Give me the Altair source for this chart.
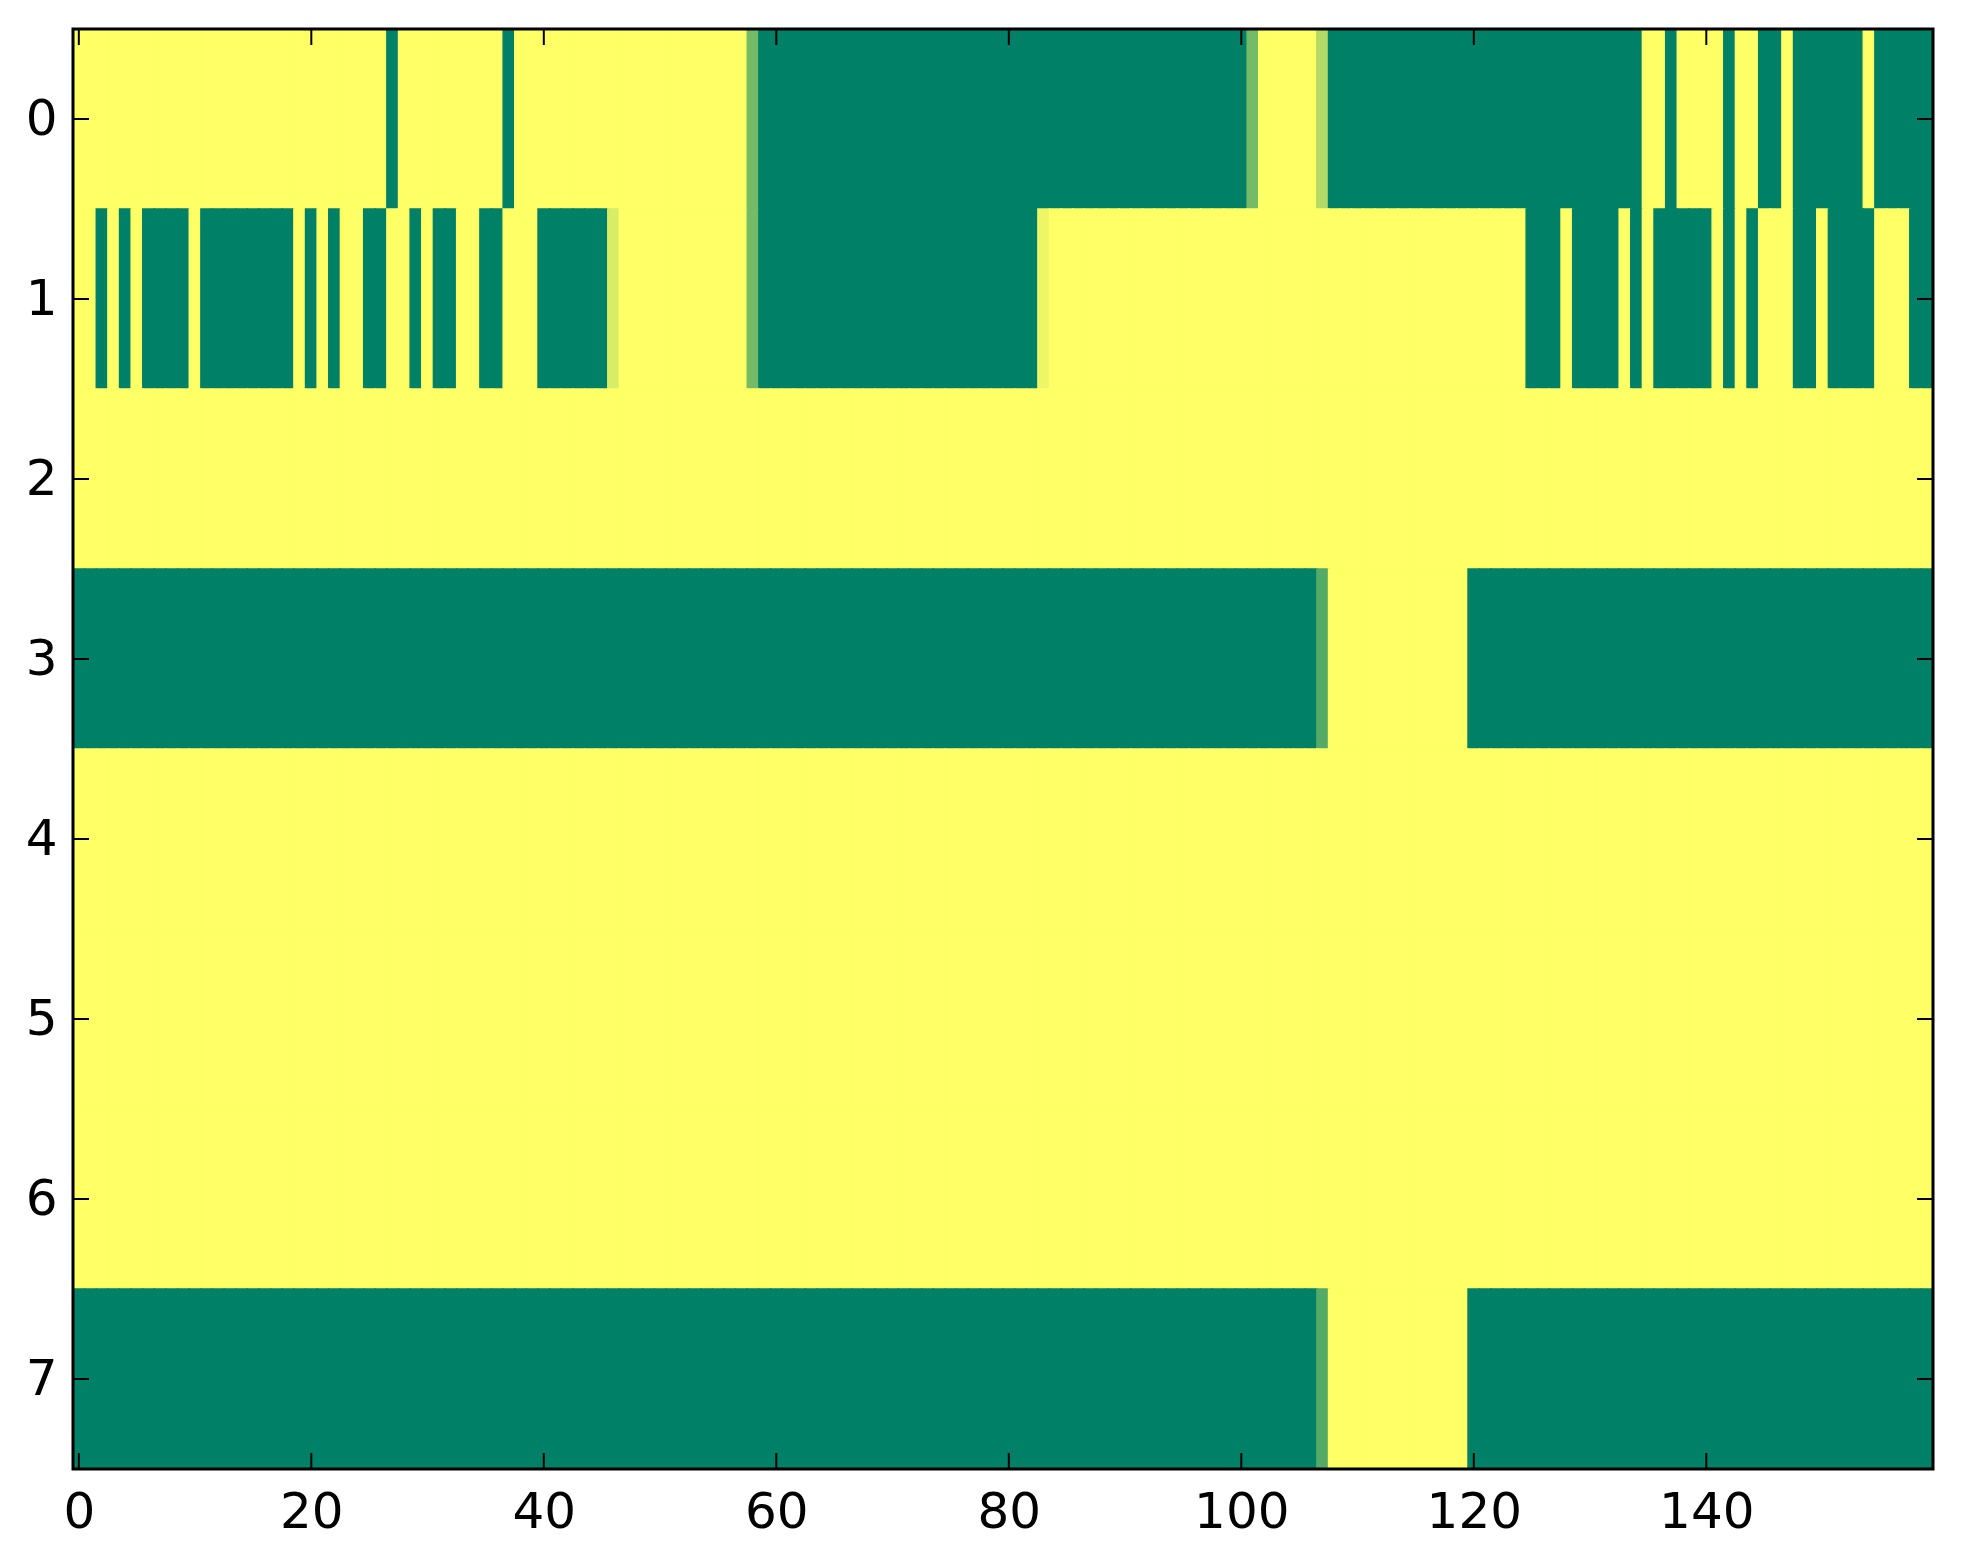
import altair as alt
import pandas as pd

# ---------------- data ----------------
row_0 = [
    1, 1, 1, 1, 1, 1, 1, 1, 1, 1,
    1, 1, 1, 1, 1, 1, 1, 1, 1, 1,
    1, 1, 1, 1, 1, 1, 1, 0, 1, 1,
    1, 1, 1, 1, 1, 1, 1, 0, 1, 1,
    1, 1, 1, 1, 1, 1, 1, 1, 1, 1,
    1, 1, 1, 1, 1, 1, 1, 1, 0.46, 0,
    0, 0, 0, 0, 0, 0, 0, 0, 0, 0,
    0, 0, 0, 0, 0, 0, 0, 0, 0, 0,
    0, 0, 0, 0, 0, 0, 0, 0, 0, 0,
    0, 0, 0, 0, 0, 0, 0, 0, 0, 0,
    0, 0.46, 1, 1, 1, 1, 1, 0.70, 0, 0,
    0, 0, 0, 0, 0, 0, 0, 0, 0, 0,
    0, 0, 0, 0, 0, 0, 0, 0, 0, 0,
    0, 0, 0, 0, 0, 1, 1, 0, 1, 1,
    1, 1, 0, 1, 1, 0, 0, 1, 0, 0,
    0, 0, 0, 0, 1, 0, 0, 0, 0, 0,
]
row_1 = [
    1, 1, 0, 1, 0, 1, 0, 0, 0, 0,
    1, 0, 0, 0, 0, 0, 0, 0, 0, 1,
    0, 1, 0, 1, 1, 0, 0, 1, 1, 0,
    1, 0, 0, 1, 1, 0, 0, 1, 1, 1,
    0, 0, 0, 0, 0, 0, 0.85, 1, 1, 1,
    1, 1, 1, 1, 1, 1, 1, 1, 0.46, 0,
    0, 0, 0, 0, 0, 0, 0, 0, 0, 0,
    0, 0, 0, 0, 0, 0, 0, 0, 0, 0,
    0, 0, 0, 0.93, 1, 1, 1, 1, 1, 1,
    1, 1, 1, 1, 1, 1, 1, 1, 1, 1,
    1, 1, 1, 1, 1, 1, 1, 1, 1, 1,
    1, 1, 1, 1, 1, 1, 1, 1, 1, 1,
    1, 1, 1, 1, 1, 0, 0, 0, 1, 0,
    0, 0, 0, 1, 0, 1, 0, 0, 0, 0,
    0, 1, 0, 1, 0, 1, 1, 1, 0, 0,
    1, 0, 0, 0, 0, 1, 1, 1, 0, 0,
]
row_2 = [
    1, 1, 1, 1, 1, 1, 1, 1, 1, 1,
    1, 1, 1, 1, 1, 1, 1, 1, 1, 1,
    1, 1, 1, 1, 1, 1, 1, 1, 1, 1,
    1, 1, 1, 1, 1, 1, 1, 1, 1, 1,
    1, 1, 1, 1, 1, 1, 1, 1, 1, 1,
    1, 1, 1, 1, 1, 1, 1, 1, 1, 1,
    1, 1, 1, 1, 1, 1, 1, 1, 1, 1,
    1, 1, 1, 1, 1, 1, 1, 1, 1, 1,
    1, 1, 1, 1, 1, 1, 1, 1, 1, 1,
    1, 1, 1, 1, 1, 1, 1, 1, 1, 1,
    1, 1, 1, 1, 1, 1, 1, 1, 1, 1,
    1, 1, 1, 1, 1, 1, 1, 1, 1, 1,
    1, 1, 1, 1, 1, 1, 1, 1, 1, 1,
    1, 1, 1, 1, 1, 1, 1, 1, 1, 1,
    1, 1, 1, 1, 1, 1, 1, 1, 1, 1,
    1, 1, 1, 1, 1, 1, 1, 1, 1, 1,
]
row_3 = [
    0, 0, 0, 0, 0, 0, 0, 0, 0, 0,
    0, 0, 0, 0, 0, 0, 0, 0, 0, 0,
    0, 0, 0, 0, 0, 0, 0, 0, 0, 0,
    0, 0, 0, 0, 0, 0, 0, 0, 0, 0,
    0, 0, 0, 0, 0, 0, 0, 0, 0, 0,
    0, 0, 0, 0, 0, 0, 0, 0, 0, 0,
    0, 0, 0, 0, 0, 0, 0, 0, 0, 0,
    0, 0, 0, 0, 0, 0, 0, 0, 0, 0,
    0, 0, 0, 0, 0, 0, 0, 0, 0, 0,
    0, 0, 0, 0, 0, 0, 0, 0, 0, 0,
    0, 0, 0, 0, 0, 0, 0, 0.33, 1, 1,
    1, 1, 1, 1, 1, 1, 1, 1, 1, 1,
    0, 0, 0, 0, 0, 0, 0, 0, 0, 0,
    0, 0, 0, 0, 0, 0, 0, 0, 0, 0,
    0, 0, 0, 0, 0, 0, 0, 0, 0, 0,
    0, 0, 0, 0, 0, 0, 0, 0, 0, 0,
]
row_4 = list(row_2)
row_5 = list(row_2)
row_6 = list(row_2)
row_7 = list(row_3)

rows = [row_0, row_1, row_2, row_3, row_4, row_5, row_6, row_7]

x_tick_values = [0, 20, 40, 60, 80, 100, 120, 140]
y_tick_values = [0, 1, 2, 3, 4, 5, 6, 7]

# ---------------- build tables ----------------
records = []
for r, row in enumerate(rows):
    for c, v in enumerate(row):
        records.append({"col": c, "row": r, "v": v,
                        "x0": c - 0.5, "x1": c + 0.5,
                        "y0": r - 0.5, "y1": r + 0.5})
cells = pd.DataFrame(records)
xt = pd.DataFrame({"t": x_tick_values})
yt = pd.DataFrame({"t": y_tick_values})
one = pd.DataFrame({"a": [0]})

W, H = 1860, 1440
TICK = 16
FONT = "DejaVu Sans"

xscale = alt.Scale(domain=[-0.5, 159.5], nice=False, zero=False)
yscale = alt.Scale(domain=[-0.5, 7.5], nice=False, zero=False, reverse=True)
cscale = alt.Scale(domain=[0, 1], range=["#008066", "#ffff66"], interpolate="rgb")

xaxis = alt.Axis(values=x_tick_values, title="", ticks=False, tickSize=0,
                 domain=False, grid=False, labelFontSize=50, labelFont=FONT,
                 labelColor="black", labelPadding=18, labelFlush=False,
                 labelOverlap=False, format="d", orient="bottom")
yaxis = alt.Axis(values=y_tick_values, title="", ticks=False, tickSize=0,
                 domain=False, grid=False, labelFontSize=50, labelFont=FONT,
                 labelColor="black", labelPadding=16, labelFlush=False,
                 labelOverlap=False, format="d", orient="left")

heat = alt.Chart(cells).mark_rect(strokeWidth=1.4).encode(
    x=alt.X("x0:Q", scale=xscale, axis=xaxis),
    x2="x1:Q",
    y=alt.Y("y0:Q", scale=yscale, axis=yaxis),
    y2="y1:Q",
    color=alt.Color("v:Q", scale=cscale, legend=None),
    stroke=alt.Stroke("v:Q", scale=cscale, legend=None),
)

bottom_ticks = alt.Chart(xt).mark_rule(color="black", strokeWidth=2).encode(
    x=alt.X("t:Q", scale=xscale, axis=xaxis),
    y=alt.value(H), y2=alt.value(H - TICK))
top_ticks = alt.Chart(xt).mark_rule(color="black", strokeWidth=2).encode(
    x=alt.X("t:Q", scale=xscale, axis=xaxis),
    y=alt.value(0), y2=alt.value(TICK))
left_ticks = alt.Chart(yt).mark_rule(color="black", strokeWidth=2).encode(
    y=alt.Y("t:Q", scale=yscale, axis=yaxis),
    x=alt.value(0), x2=alt.value(TICK))
right_ticks = alt.Chart(yt).mark_rule(color="black", strokeWidth=2).encode(
    y=alt.Y("t:Q", scale=yscale, axis=yaxis),
    x=alt.value(W), x2=alt.value(W - TICK))

frame = alt.Chart(one).mark_rect(filled=False, stroke="black", strokeWidth=3).encode(
    x=alt.value(0), x2=alt.value(W), y=alt.value(0), y2=alt.value(H))

chart = alt.layer(heat, bottom_ticks, top_ticks, left_ticks, right_ticks, frame).properties(
    width=W, height=H,
    padding={"left": 65, "top": 21, "right": 14, "bottom": 70},
    autosize=alt.AutoSizeParams(type="none"),
    background="white",
).configure_view(stroke="transparent")

chart.save("out.html", embed_options={"renderer": "svg", "actions": False})
